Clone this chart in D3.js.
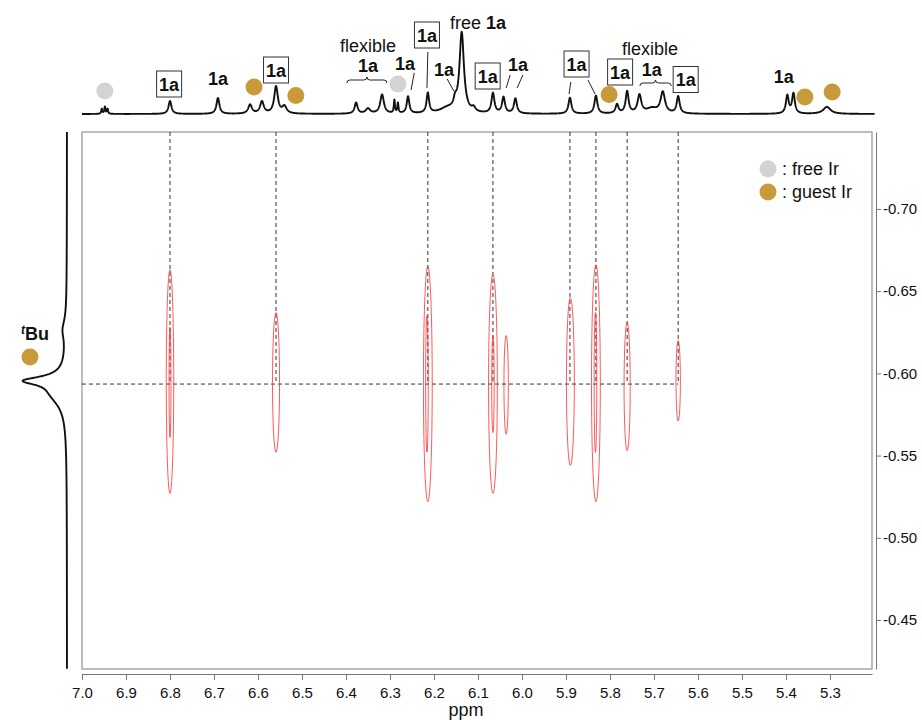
<!DOCTYPE html>
<html>
<head>
<meta charset="UTF-8">
<title>2D NMR</title>
<script src="https://cdn.jsdelivr.net/npm/d3@7"></script>
<style>
  body { margin: 0; background: #fff; }
  text { font-family: "Liberation Sans", Arial, sans-serif; }
</style>
</head>
<body>
<script>
// axis ticks
var xTicks = [7.0, 6.9, 6.8, 6.7, 6.6, 6.5, 6.4, 6.3, 6.2, 6.1, 6.0, 5.9, 5.8, 5.7, 5.6, 5.5, 5.4, 5.3];
var yTicks = [-0.70, -0.65, -0.60, -0.55, -0.50, -0.45];

// top 1D spectrum: peak positions (ppm), heights, half widths
var topPpm    = [6.955, 6.948, 6.942, 6.800, 6.691, 6.618, 6.591, 6.559, 6.540, 6.377, 6.350, 6.318, 6.290, 6.282, 6.259, 6.214, 6.170, 6.152, 6.137, 6.110, 6.066, 6.042, 6.015, 5.891, 5.832, 5.784, 5.761, 5.733, 5.705, 5.680, 5.645, 5.397, 5.383, 5.307];
var topHeight = [5, 7, 5, 13, 16, 9, 12, 27, 7, 11, 5, 19, 13, 10, 17, 20, 5, 8, 80, 4, 20, 16, 15, 16, 18, 9, 22, 18, 5, 21, 17, 18, 20, 7];
var topWidth  = [0.0015, 0.0015, 0.0015, 0.004, 0.004, 0.005, 0.005, 0.005, 0.006, 0.004, 0.006, 0.005, 0.0015, 0.0015, 0.0035, 0.0035, 0.02, 0.004, 0.006, 0.005, 0.004, 0.004, 0.004, 0.004, 0.004, 0.004, 0.004, 0.005, 0.015, 0.006, 0.004, 0.0038, 0.0038, 0.01];

// left 1D spectrum (tBu region)
var leftPpm    = [-0.6265, -0.5955, -0.588];
var leftHeight = [3.5, 36, 14];
var leftWidth  = [0.007, 0.003, 0.009];

// cross peaks (contours)
var crossPpm = [6.800, 6.559, 6.214, 6.066, 5.891, 5.832, 5.761, 5.645];
var tBuShift = -0.5935;
var contourPpm = [6.800, 6.800, 6.559, 6.214, 6.216, 6.066, 6.066, 6.036, 5.890, 5.832, 5.833, 5.761, 5.645];
var contourTop = [-0.663, -0.628, -0.637, -0.665, -0.635, -0.660, -0.623, -0.623, -0.646, -0.666, -0.637, -0.631, -0.620];
var contourBot = [-0.527, -0.561, -0.552, -0.522, -0.552, -0.527, -0.564, -0.563, -0.544, -0.522, -0.552, -0.553, -0.571];
var contourHw  = [0.0085, 0.0022, 0.008, 0.010, 0.003, 0.010, 0.0028, 0.005, 0.009, 0.010, 0.003, 0.007, 0.005];

// annotations on the top spectrum
var labelText  = ["1a", "1a", "1a", "flexible", "1a", "1a", "1a", "1a", "free 1a", "1a", "1a", "1a", "1a", "flexible", "1a", "1a", "1a"];
var labelPpm   = [6.802, 6.691, 6.559, 6.350, 6.350, 6.266, 6.216, 6.177, 6.100, 6.078, 6.009, 5.876, 5.777, 5.709, 5.705, 5.628, 5.405];
var labelLevel = [30, 36, 44, 69, 49, 50.5, 79, 45, 92, 38, 50, 50, 42, 66, 45, 34.5, 38];
var labelBox   = [true, false, true, false, false, false, true, false, false, true, false, true, true, false, false, true, false];

var leaderPpm1 = [6.245, 6.214, 6.170, 6.027, 5.998, 5.889, 5.850];
var leaderLv1  = [41, 62, 35, 39, 39, 32, 34];
var leaderPpm2 = [6.252, 6.216, 6.155, 6.036, 6.011, 5.893, 5.834];
var leaderLv2  = [24, 26, 23, 26, 26, 20, 20];

var braceFrom  = [6.398, 5.732];
var braceTo    = [6.307, 5.661];
var braceLevel = [34, 31];

var dotPpm   = [6.948, 6.609, 6.514, 6.282, 5.802, 5.357, 5.295];
var dotLevel = [23, 27, 18.5, 30, 19.5, 17, 22];
var dotKind  = ["free", "guest", "guest", "free", "guest", "guest", "guest"];

var colors = { free: "#d3d3d3", guest: "#c99a3c" };

var W = 922, H = 720;
var svg = d3.select("body").append("svg").attr("width", W).attr("height", H);

var x = d3.scaleLinear().domain([7.0, 5.2045]).range([82, 872]);
var y = d3.scaleLinear().domain([-0.7468, -0.4202]).range([132, 669]);
var yTop = d3.scaleLinear().domain([0, 100]).range([114, 14]);
var xLeft = d3.scaleLinear().domain([0, 100]).range([67, -33]);

function lorentz(p, pos, hgt, wid) {
    var s = 0;
    for (var i = 0; i < pos.length; i++) {
        var d = (p - pos[i]) / wid[i];
        s += hgt[i] / (1 + d * d);
    }
    return s;
}

// frame
svg.append("rect")
    .attr("x", 82).attr("y", 132).attr("width", 790).attr("height", 537)
    .attr("fill", "none").attr("stroke", "#9a9a9a").attr("stroke-width", 1.3);

// x axis
var xAxisG = svg.append("g").attr("transform", "translate(0,674)");
xAxisG.call(d3.axisBottom(x).tickValues(d3.range(6.95, 5.2, -0.1)).tickSize(3).tickSizeOuter(0).tickFormat(""));
xAxisG.call(d3.axisBottom(x).tickValues(xTicks).tickSize(6).tickSizeOuter(0).tickPadding(7)
    .tickFormat(function (d) { return d.toFixed(1); }));
xAxisG.selectAll("path,line").attr("stroke", "#777");
xAxisG.selectAll("text").attr("font-size", 15).attr("fill", "#111")
    .style("font-family", "'Liberation Sans', Arial, sans-serif");

svg.append("text").attr("x", 466).attr("y", 716).attr("text-anchor", "middle")
    .attr("font-size", 18).attr("fill", "#111").text("ppm");

// y axis (right)
var yAxisG = svg.append("g").attr("transform", "translate(876,0)");
yAxisG.call(d3.axisRight(y).tickValues(d3.range(-0.725, -0.42, 0.05)).tickSize(3).tickSizeOuter(0).tickFormat(""));
yAxisG.call(d3.axisRight(y).tickValues(yTicks).tickSize(5).tickSizeOuter(0).tickPadding(2)
    .tickFormat(function (d) { return d.toFixed(2); }));
yAxisG.selectAll("path,line").attr("stroke", "#777");
yAxisG.selectAll("text").attr("font-size", 15).attr("fill", "#111")
    .style("font-family", "'Liberation Sans', Arial, sans-serif");

// dashed guide lines
svg.append("line")
    .attr("x1", x(7.0)).attr("x2", x(d3.min(crossPpm)))
    .attr("y1", y(tBuShift)).attr("y2", y(tBuShift))
    .attr("stroke", "#333").attr("stroke-width", 1).attr("stroke-dasharray", "4,3");

svg.selectAll("line.vguide")
    .data(crossPpm)
    .enter()
    .append("line")
    .attr("class", "vguide")
    .attr("x1", function (d) { return x(d); })
    .attr("x2", function (d) { return x(d); })
    .attr("y1", 132)
    .attr("y2", y(tBuShift))
    .attr("stroke", "#333").attr("stroke-width", 1).attr("stroke-dasharray", "4,3");

// contours
svg.selectAll("ellipse.contour")
    .data(contourPpm)
    .enter()
    .append("ellipse")
    .attr("class", "contour")
    .attr("cx", function (d) { return x(d); })
    .attr("cy", function (d, i) { return y((contourTop[i] + contourBot[i]) / 2); })
    .attr("rx", function (d, i) { return Math.abs(x(d + contourHw[i]) - x(d)); })
    .attr("ry", function (d, i) { return Math.abs(y(contourBot[i]) - y(contourTop[i])) / 2; })
    .attr("fill", "none")
    .attr("stroke", "#ff3030")
    .attr("stroke-opacity", 0.8)
    .attr("stroke-width", 1);

// top 1D spectrum
var topPts = d3.range(7.0, 5.198, -0.0004).map(function (p) {
    return [p, lorentz(p, topPpm, topHeight, topWidth)];
});
svg.append("path")
    .datum(topPts)
    .attr("d", d3.line().x(function (d) { return x(d[0]); }).y(function (d) { return yTop(d[1]); }))
    .attr("fill", "none").attr("stroke", "#111").attr("stroke-width", 1.9).attr("stroke-linejoin", "round");

// left 1D spectrum
var leftPts = d3.range(-0.7468, -0.4202, 0.0004).map(function (p) {
    return [p, lorentz(p, leftPpm, leftHeight, leftWidth)];
});
svg.append("path")
    .datum(leftPts)
    .attr("d", d3.line().x(function (d) { return xLeft(d[1]); }).y(function (d) { return y(d[0]); }))
    .attr("fill", "none").attr("stroke", "#111").attr("stroke-width", 1.9).attr("stroke-linejoin", "round");

// leader lines
svg.selectAll("line.leader")
    .data(leaderPpm1)
    .enter()
    .append("line")
    .attr("class", "leader")
    .attr("x1", function (d) { return x(d); })
    .attr("y1", function (d, i) { return yTop(leaderLv1[i]); })
    .attr("x2", function (d, i) { return x(leaderPpm2[i]); })
    .attr("y2", function (d, i) { return yTop(leaderLv2[i]); })
    .attr("stroke", "#222").attr("stroke-width", 1);

// braces
braceFrom.forEach(function (a, i) {
    var x1 = x(a), x2 = x(braceTo[i]), yb = yTop(braceLevel[i]), m = (x1 + x2) / 2;
    var p = d3.path();
    p.moveTo(x1, yb + 3);
    p.quadraticCurveTo(x1, yb, x1 + 3, yb);
    p.lineTo(m - 3, yb);
    p.quadraticCurveTo(m, yb, m, yb - 3);
    p.quadraticCurveTo(m, yb, m + 3, yb);
    p.lineTo(x2 - 3, yb);
    p.quadraticCurveTo(x2, yb, x2, yb + 3);
    svg.append("path").attr("d", p.toString())
        .attr("fill", "none").attr("stroke", "#222").attr("stroke-width", 1);
});

// labels
var lab = svg.selectAll("g.lab")
    .data(labelText)
    .enter()
    .append("g")
    .attr("class", "lab")
    .attr("transform", function (d, i) { return "translate(" + x(labelPpm[i]) + "," + yTop(labelLevel[i]) + ")"; });

lab.filter(function (d, i) { return labelBox[i]; })
    .append("rect")
    .attr("x", -12.5).attr("y", -13).attr("width", 25).attr("height", 26)
    .attr("fill", "#fff").attr("stroke", "#333").attr("stroke-width", 1);

lab.each(function (d) {
    var t = d3.select(this).append("text")
        .attr("text-anchor", "middle")
        .attr("y", 6.5)
        .attr("font-size", 18)
        .attr("fill", "#111");
    if (d === "flexible") {
        t.text(d);
    } else if (d === "free 1a") {
        t.append("tspan").text("free ");
        t.append("tspan").attr("font-weight", "bold").text("1a");
    } else {
        t.attr("font-weight", "bold").text(d);
    }
});

// dots on the top spectrum
svg.selectAll("circle.dot")
    .data(dotPpm)
    .enter()
    .append("circle")
    .attr("class", "dot")
    .attr("cx", function (d) { return x(d); })
    .attr("cy", function (d, i) { return yTop(dotLevel[i]); })
    .attr("r", 8.5)
    .attr("fill", function (d, i) { return colors[dotKind[i]]; });

// tBu label on the left spectrum
var tb = svg.append("text").attr("x", 21).attr("y", 340).attr("font-size", 18).attr("font-weight", "bold").attr("fill", "#111");
tb.append("tspan").attr("font-style", "italic").attr("font-size", 12).attr("dy", -6).text("t");
tb.append("tspan").attr("dy", 6).text("Bu");
svg.append("circle").attr("cx", 30).attr("cy", 357).attr("r", 8.5).attr("fill", colors.guest);

// legend
var legendKeys = ["free", "guest"];
var legendText = [": free Ir", ": guest Ir"];
var leg = svg.selectAll("g.leg")
    .data(legendKeys)
    .enter()
    .append("g")
    .attr("class", "leg")
    .attr("transform", function (d, i) { return "translate(768," + (169 + i * 23) + ")"; });
leg.append("circle").attr("r", 8.5).attr("fill", function (d) { return colors[d]; });
leg.append("text").attr("x", 14).attr("y", 6.3).attr("font-size", 18).attr("fill", "#111")
    .text(function (d, i) { return legendText[i]; });
</script>
</body>
</html>
